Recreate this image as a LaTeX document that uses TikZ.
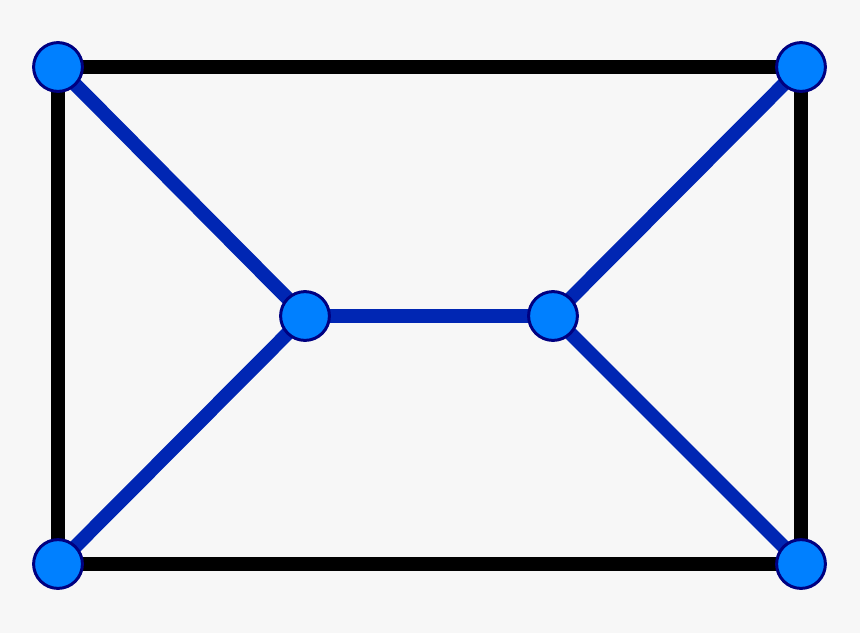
\documentclass[tikz,border=0pt]{standalone}
\usetikzlibrary{positioning,backgrounds}
\definecolor{paper}{HTML}{F7F7F7}
\definecolor{royal}{HTML}{0026B3}
\definecolor{azure}{HTML}{0080FF}
\definecolor{navy}{HTML}{000080}
\tikzset{
  vertex/.style={circle,draw=navy,line width=2.25pt,fill=azure,minimum size=36.75pt,inner sep=0pt},
  rim/.style={line width=10.5pt,black},
  spoke/.style={line width=10.5pt,royal}
}
\begin{document}
\begin{tikzpicture}[x=0.0264583cm,y=-0.0264583cm]
  \useasboundingbox (0,0) rectangle (860,633);
  % corners and middle pair
  \node[vertex] (tl) at (58,67) {};
  \node[vertex] (tr) at (801,67) {};
  \node[vertex] (bl) at (58,564) {};
  \node[vertex] (br) at (801,564) {};
  \node[vertex] (ml) at (305,316) {};
  \node[vertex] (mr) at (553,316) {};
  % edges go under the vertices
  \begin{pgfonlayer}{background}
    \fill[paper] (0,0) rectangle (860,633);
    \draw[rim] (tl.center) -- (tr.center) -- (br.center) -- (bl.center) -- cycle;
    \draw[spoke] (tl.center) -- (ml.center);
    \draw[spoke] (bl.center) -- (ml.center);
    \draw[spoke] (ml.center) -- (mr.center);
    \draw[spoke] (mr.center) -- (tr.center);
    \draw[spoke] (mr.center) -- (br.center);
  \end{pgfonlayer}
\end{tikzpicture}
\end{document}
